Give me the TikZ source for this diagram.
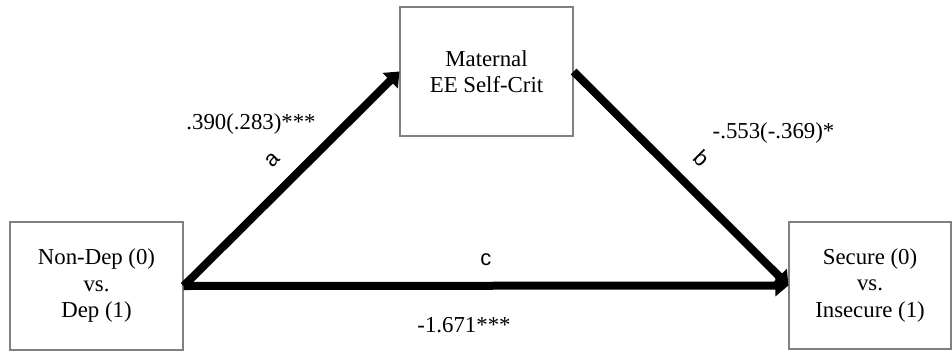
\documentclass[tikz,border=0pt]{standalone}
\usepackage{fontspec}
\setmainfont{Liberation Serif}
\setsansfont{Liberation Sans}
\usetikzlibrary{arrows.meta}
\begin{document}
\begin{tikzpicture}[x=1pt,y=-1pt,
  varbox/.style={draw=black!50, line width=1.2pt, align=center, inner sep=0pt,
    font=\fontsize{22.8}{26.5}\selectfont},
  path/.style={line width=8pt, -{Triangle[length=13pt,width=21pt]}},
  letter/.style={font=\sffamily\fontsize{22}{26}\selectfont, inner sep=0pt, sloped},
  coef/.style={font=\fontsize{22.8}{26.5}\selectfont, inner sep=0pt, anchor=base}]
\useasboundingbox (0,0) rectangle (952,351);
\node[varbox, minimum width=173pt, minimum height=128pt] (L) at (96.5,286) {Non-Dep (0)\\vs.\\Dep (1)};
\node[varbox, minimum width=173pt, minimum height=129pt] (T) at (486.5,71.5) {Maternal\\EE Self-Crit};
\node[varbox, minimum width=162pt, minimum height=127pt] (R) at (870,285.5) {Secure (0)\\vs.\\Insecure (1)};
\draw[path] (L.east) -- node[letter, pos=0.5, above=17pt] {a} (T.west);
\draw[path] (T.east) -- node[letter, pos=0.5, above=17pt] {b} (R.west);
\draw[path] (L.east) -- node[letter, pos=0.5, above=16pt] {c} (R.west);
\node[coef] (ca) at (251,129) {.390(.283)***};
\node[coef] (cb) at (773.5,138) {-.553(-.369)*};
\node[coef] (cc) at (464,332) {-1.671***};
\end{tikzpicture}
\end{document}
